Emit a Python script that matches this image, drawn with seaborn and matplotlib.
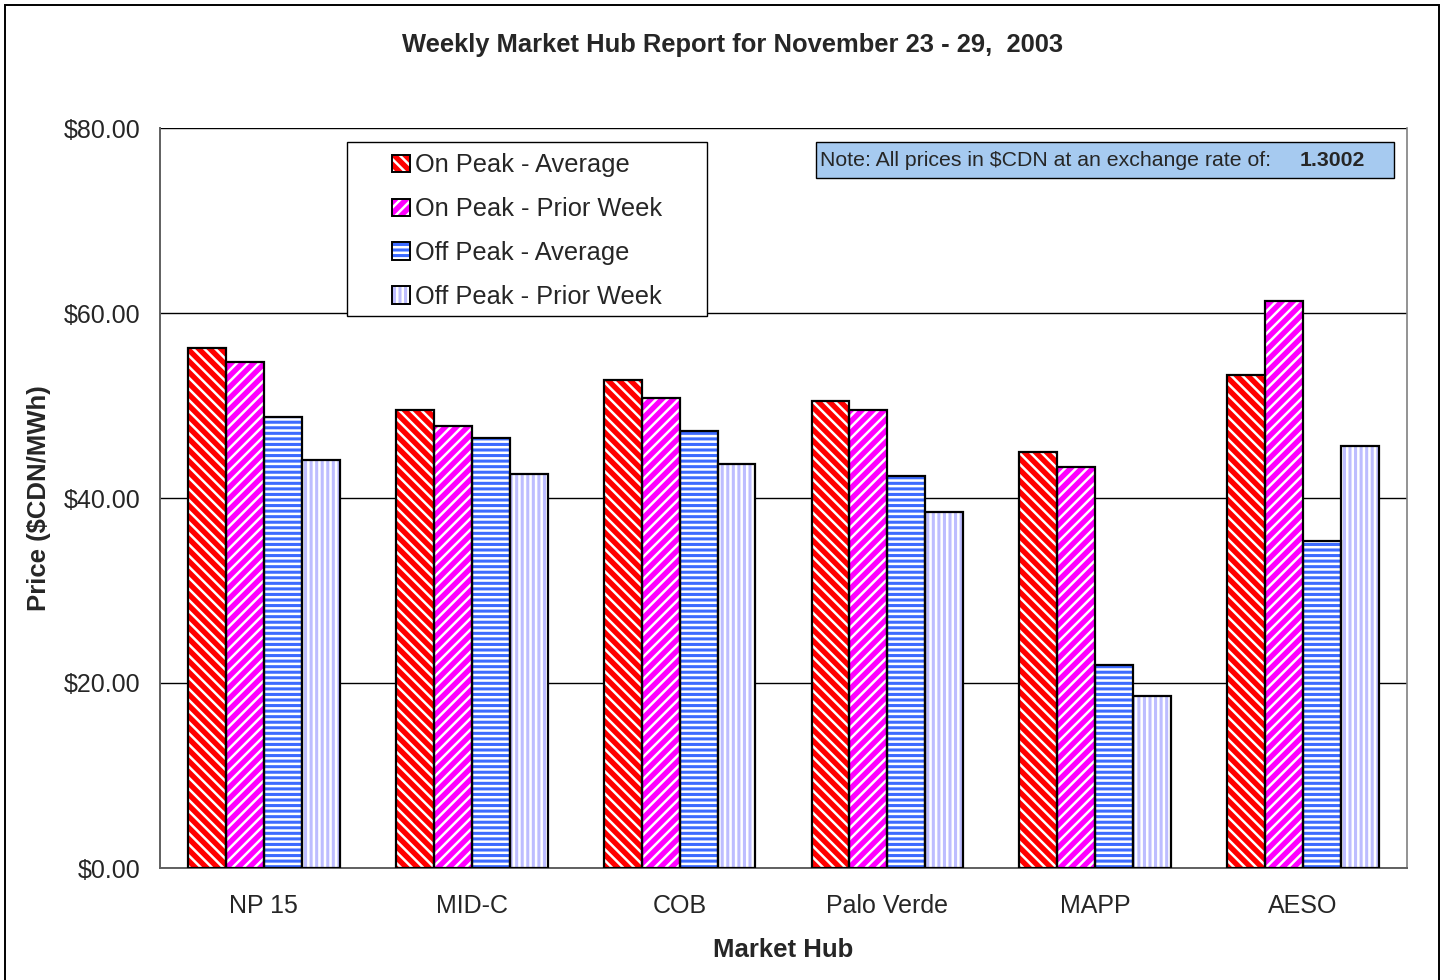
import matplotlib
matplotlib.use("Agg")
import matplotlib.pyplot as plt
from matplotlib.patches import Rectangle, Patch
from matplotlib.ticker import FuncFormatter, FixedLocator
import numpy as np
import pandas as pd
import seaborn as sns

# dati
hubs = ['NP 15', 'MID-C', 'COB', 'Palo Verde', 'MAPP', 'AESO']
series = ['On Peak - Average', 'On Peak - Prior Week',
          'Off Peak - Average', 'Off Peak - Prior Week']
on_avg = [56.2, 49.5, 52.8, 50.5, 45.0, 53.3]
on_prior = [54.7, 47.8, 50.8, 49.5, 43.4, 61.3]
off_avg = [48.8, 46.5, 47.2, 42.4, 21.9, 35.4]
off_prior = [44.1, 42.6, 43.7, 38.5, 18.6, 45.6]
exchange_rate = '1.3002'

colors = ['#FF0000', '#FF00FF', '#3D6BFF', '#BDBDFF']
hatches = ['\\\\\\', '///', '---', '|||']

df = pd.DataFrame({
    'hub': hubs * 4,
    'series': np.repeat(series, len(hubs)),
    'price': on_avg + on_prior + off_avg + off_prior,
})

sns.set_style('white')
plt.rcParams['font.family'] = ['Liberation Sans', 'DejaVu Sans']
plt.rcParams['hatch.linewidth'] = 1.8

fig = plt.figure(figsize=(14.43, 9.80), dpi=100)
ax = fig.add_axes([160/1443, 1-868/980, 1247/1443, 740/980])

sns.barplot(data=df, x='hub', y='price', hue='series', order=hubs,
            hue_order=series, width=0.73, ax=ax, legend=False, zorder=3)

# colori e tratteggi: tratteggio bianco, bordo nero sovrapposto
for cont, c, h in zip(ax.containers, colors, hatches):
    for bar in cont:
        bar.set_facecolor(c)
        bar.set_hatch(h)
        bar.set_edgecolor('white')
        bar.set_linewidth(0)
        ax.add_patch(Rectangle(bar.get_xy(), bar.get_width(), bar.get_height(),
                               fill=False, edgecolor='black', linewidth=1.6, zorder=4))

ax.set_ylim(0, 80)
ax.set_xlim(-0.5, 5.5)
ax.set_yticks([0, 20, 40, 60, 80])
ax.yaxis.set_major_formatter(FuncFormatter(lambda v, p: f'${v:.2f}'))
ax.grid(axis='y', color='black', linewidth=1.0, zorder=0)
ax.set_axisbelow(True)

ax.xaxis.set_minor_locator(FixedLocator(np.arange(-0.5, 6, 1)))
ax.tick_params(axis='x', which='major', length=0, pad=19, labelsize=18)
ax.tick_params(axis='x', which='minor', length=7, width=1.2, color='#808080', direction='out')
ax.tick_params(axis='y', length=6, width=1.2, color='#808080', direction='out', pad=8, labelsize=18)

for s in ['left', 'bottom']:
    ax.spines[s].set_color('#606060')
    ax.spines[s].set_linewidth(1.4)
ax.spines['right'].set_color('#808080')
ax.spines['right'].set_linewidth(1.2)
ax.spines['top'].set_visible(False)

ax.set_xlabel('Market Hub', fontsize=18.5, fontweight='bold', labelpad=14)
ax.set_ylabel('Price ($CDN/MWh)', fontsize=18.5, fontweight='bold', labelpad=9)

# legenda in un riquadro bianco
ax.add_patch(Rectangle((0.15, 0.746), 0.289, 0.235, transform=ax.transAxes,
                       facecolor='white', edgecolor='black', linewidth=1.0, zorder=5))
handles = []
for c, h in zip(colors, hatches):
    handles.append((Patch(facecolor=c, hatch=h, edgecolor='white', linewidth=0),
                    Patch(fill=False, edgecolor='black', linewidth=1.4)))
leg = ax.legend(handles, series, loc='center', bbox_to_anchor=(0.2945, 0.8605),
                frameon=False, fontsize=18.3, handlelength=0.7, handleheight=0.7,
                handletextpad=0.2, labelspacing=0.78)
leg.set_zorder(6)

# nota tasso di cambio
ax.add_patch(Rectangle((0.526, 0.9324), 0.4632, 0.0486, transform=ax.transAxes,
                       facecolor='#A6CAF0', edgecolor='black', linewidth=1.0, zorder=5))
ax.text(0.5292, 0.9567, 'Note: All prices in $CDN at an exchange rate of:',
        transform=ax.transAxes, fontsize=15.3, va='center', ha='left', zorder=6)
ax.text(0.9142, 0.9567, exchange_rate, transform=ax.transAxes, fontsize=15.3,
        fontweight='bold', va='center', ha='left', zorder=6)

fig.text(0.508, 1-45/980, 'Weekly Market Hub Report for November 23 - 29,  2003',
         ha='center', va='center', fontsize=18.4, fontweight='bold')

# bordo esterno
fig.patches.append(Rectangle((5/1443, -0.01), 1434/1443, 1.01-5/980,
                             transform=fig.transFigure, fill=False,
                             edgecolor='black', linewidth=1.4))

plt.savefig('out.png', dpi=100)
plt.close()
